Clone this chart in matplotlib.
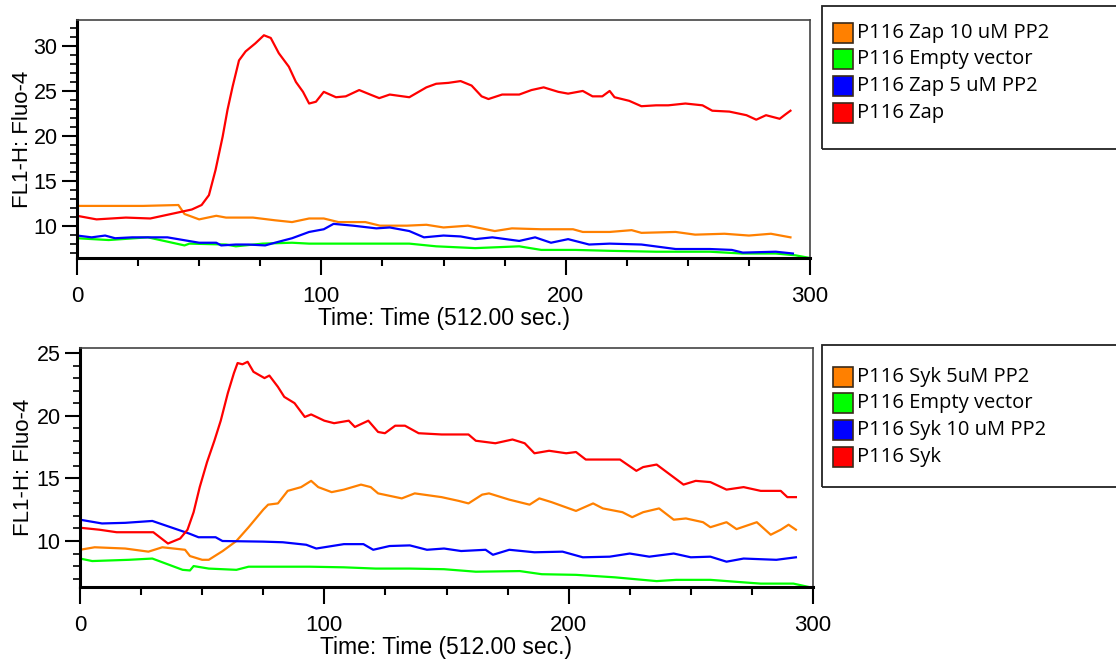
import matplotlib
matplotlib.use("Agg")
import matplotlib.pyplot as plt
from matplotlib.patches import Rectangle
from matplotlib.ticker import MultipleLocator

W, H = 1116, 661

# ---------------- Top panel data (Zap) ----------------
zap10_t = [0, 13, 27, 41.5, 44, 50, 57, 61, 72, 81, 88, 95, 101, 107, 118, 124, 135, 143, 150,
           160, 171, 178, 190, 203, 207, 218, 227, 231, 245, 253, 265, 275, 284, 292]
zap10_y = [12.2, 12.2, 12.2, 12.3, 11.3, 10.7, 11.1, 10.9, 10.9, 10.6, 10.4, 10.8, 10.8, 10.4, 10.4, 10.0, 10.0, 10.1, 9.8,
           10.0, 9.4, 9.7, 9.6, 9.6, 9.3, 9.3, 9.5, 9.2, 9.3, 9.0, 9.1, 8.9, 9.1, 8.7]

empty1_t = [0, 13, 29, 44, 46, 61, 65, 76, 88, 95, 109, 136, 147, 163, 181, 190, 204, 218, 237, 259,
            272, 286, 294, 300]
empty1_y = [8.6, 8.4, 8.7, 7.8, 8.0, 7.9, 7.7, 8.0, 8.1, 8.0, 8.0, 8.0, 7.7, 7.5, 7.7, 7.3, 7.3, 7.2, 7.1, 7.1,
            6.9, 6.9, 6.7, 6.4]

zap5_t = [0, 6, 11.5, 15.6, 22.6, 31, 37, 50, 57, 59, 65, 70, 77, 81, 88, 95, 101, 105, 113, 122.5,
          128, 136, 142, 150, 157, 163, 170, 181, 187.5, 194, 201, 209.6, 218, 231, 245, 259, 268, 272.5,
          286, 293]
zap5_y = [8.9, 8.7, 8.9, 8.6, 8.7, 8.7, 8.7, 8.1, 8.1, 7.8, 7.9, 7.9, 7.8, 8.1, 8.6, 9.3, 9.6, 10.2, 10.0, 9.7,
          9.8, 9.4, 8.7, 8.9, 8.8, 8.5, 8.7, 8.3, 8.7, 8.1, 8.5, 7.9, 8.0, 7.9, 7.4, 7.4, 7.3, 7.0,
          7.1, 6.9]

zap_t = [0, 8, 20, 30, 47, 51, 54, 56.7, 59.6, 61.6, 63.7, 66.3, 69, 73, 76.5, 79.3, 82.6, 86.7, 89.6,
         92.5, 95, 97.8, 101, 106, 110, 115.5, 120, 123.7, 128, 136, 143, 147, 152, 157, 161.5, 165.6,
         168.4, 174, 181, 186, 191, 197, 201, 207, 211, 215, 218, 220, 226, 231, 237, 242, 249, 256, 260,
         267, 274, 278, 282, 287.6, 290, 292]
zap_y = [11.1, 10.7, 10.9, 10.8, 11.8, 12.3, 13.4, 16.2, 19.9, 22.9, 25.5, 28.4, 29.4, 30.3, 31.2, 30.9, 29.2, 27.7, 26.0,
         24.9, 23.6, 23.8, 24.9, 24.3, 24.4, 25.1, 24.6, 24.2, 24.6, 24.3, 25.4, 25.8, 25.9, 26.1, 25.6, 24.4,
         24.1, 24.6, 24.6, 25.1, 25.4, 24.9, 24.7, 25.0, 24.4, 24.4, 25.0, 24.3, 23.9, 23.3, 23.4, 23.4, 23.6, 23.4, 22.8,
         22.7, 22.3, 21.8, 22.3, 21.9, 22.4, 22.8]

# ---------------- Bottom panel data (Syk) ----------------
syk5_t = [0, 6, 18.5, 28, 33.7, 43, 45, 50, 52.7, 58.4, 64, 69, 75, 77, 81, 85, 90.5, 94.6, 97.5, 103,
          108, 115, 119, 122, 131.7, 137, 148, 155, 159, 164.6, 167.4, 175.7, 184, 188, 193, 203, 210, 214,
          222, 226, 230.5, 237, 243, 248, 255, 258, 264.6, 268.7, 277, 282.7, 286.8, 290, 293]
syk5_y = [9.3, 9.5, 9.4, 9.15, 9.5, 9.3, 8.8, 8.5, 8.5, 9.2, 10.0, 11.1, 12.5, 12.9, 13.0, 14.0, 14.3, 14.8, 14.3, 13.9,
          14.1, 14.5, 14.3, 13.8, 13.4, 13.8, 13.5, 13.2, 13.0, 13.7, 13.8, 13.3, 12.9, 13.4, 13.1, 12.4, 13.0, 12.6,
          12.3, 11.9, 12.3, 12.6, 11.7, 11.8, 11.5, 11.1, 11.5, 10.95, 11.5, 10.5, 10.9, 11.3, 10.9]

empty2_t = [0, 5, 20, 29.6, 42, 45, 46.5, 52.7, 64, 69, 80, 94, 108, 121, 135, 149, 162, 180, 189, 203,
            219, 236, 244, 258, 271.6, 278.6, 292, 299]
empty2_y = [8.6, 8.4, 8.5, 8.6, 7.7, 7.65, 8.0, 7.8, 7.7, 7.95, 7.95, 7.95, 7.9, 7.8, 7.8, 7.75, 7.55, 7.6, 7.35, 7.3,
            7.1, 6.8, 6.9, 6.9, 6.7, 6.6, 6.6, 6.3]

syk10_t = [0, 9, 18.5, 29.6, 44.6, 48.5, 55.5, 58.3, 75, 83, 92.6, 96.7, 108, 116, 120, 126.7, 135, 142, 149,
           156, 166, 169, 175.7, 186, 197.5, 205.8, 216.8, 225, 233, 243, 250, 258, 264.6, 271.6, 285, 293]
syk10_y = [11.7, 11.4, 11.45, 11.6, 10.6, 10.3, 10.3, 10.0, 9.95, 9.9, 9.7, 9.4, 9.75, 9.75, 9.3, 9.6, 9.65, 9.3, 9.4,
           9.2, 9.3, 8.9, 9.3, 9.1, 9.15, 8.7, 8.75, 9.0, 8.75, 9.0, 8.7, 8.75, 8.35, 8.6, 8.5, 8.7]

syk_t = [0, 8, 15, 30, 36, 41, 44, 46.5, 49, 52, 55, 57.6, 60.5, 63, 64.5, 66.5, 68.6, 71, 75.5, 77.5,
         81, 83.6, 87.8, 92, 94.6, 100, 104, 110, 112.5, 118, 122, 124.8, 129, 133, 138.6, 148, 159, 162,
         170, 177, 182, 186, 192, 199, 203, 207, 214, 221, 227.7, 230.5, 236, 241.5, 247, 252, 258, 264.6,
         271.6, 278.6, 286.8, 289.5, 293]
syk_y = [11.06, 10.9, 10.7, 10.7, 9.8, 10.2, 10.9, 12.3, 14.3, 16.3, 18.0, 19.6, 21.8, 23.4, 24.2, 24.1, 24.3, 23.5, 23.0, 23.2,
         22.3, 21.5, 21.0, 19.9, 20.1, 19.6, 19.4, 19.6, 19.1, 19.6, 18.7, 18.6, 19.2, 19.2, 18.6, 18.5, 18.5, 18.0,
         17.8, 18.1, 17.8, 17.0, 17.2, 17.0, 17.1, 16.5, 16.5, 16.5, 15.6, 15.9, 16.1, 15.3, 14.5, 14.8, 14.7, 14.1,
         14.3, 14.0, 14.0, 13.5, 13.5]

top_labels = ["P116 Zap 10 uM PP2", "P116 Empty vector", "P116 Zap 5 uM PP2", "P116 Zap"]
bot_labels = ["P116 Syk 5uM PP2", "P116 Empty vector", "P116 Syk 10 uM PP2", "P116 Syk"]
colors = ["#ff8000", "#00ff00", "#0000ff", "#ff0000"]

x_ticks = [0, 100, 200, 300]
top_yticks = [10, 15, 20, 25, 30]
bot_yticks = [10, 15, 20, 25]

fig = plt.figure(figsize=(W / 100, H / 100), dpi=100)


def fbox(x0, y0, x1, y1):
    return [x0 / W, 1 - y1 / H, (x1 - x0) / W, (y1 - y0) / H]


def style(ax, ylim, yticks):
    ax.set_xlim(0, 300)
    ax.set_ylim(*ylim)
    ax.set_xticks(x_ticks)
    ax.set_yticks(yticks)
    ax.xaxis.set_minor_locator(MultipleLocator(25))
    ax.yaxis.set_minor_locator(MultipleLocator(1))
    ax.tick_params(axis="x", which="major", length=12, width=1.5, labelsize=16, pad=8, direction="out")
    ax.tick_params(axis="x", which="minor", length=6, width=1.5, direction="out")
    ax.tick_params(axis="y", which="major", length=11, width=1.5, labelsize=15.5, pad=3, direction="out")
    ax.tick_params(axis="y", which="minor", length=5, width=1.2, direction="out")
    for lab in ax.get_xticklabels() + ax.get_yticklabels():
        lab.set_fontfamily("Liberation Sans")
    ax.spines["left"].set_linewidth(2.2)
    ax.spines["bottom"].set_linewidth(2.2)
    ax.spines["top"].set_linewidth(1.2)
    ax.spines["right"].set_linewidth(1.2)
    ax.spines["top"].set_color("#444444")
    ax.spines["right"].set_color("#444444")


ax1 = fig.add_axes(fbox(77, 20, 810, 258))
series1 = [(zap10_t, zap10_y), (empty1_t, empty1_y), (zap5_t, zap5_y), (zap_t, zap_y)]
for (t, y), c in zip(series1, colors):
    ax1.plot(t, y, color=c, lw=1.6)
style(ax1, (6.4, 32.9), top_yticks)
ax1.set_xlabel("Time: Time (512.00 sec.)", fontsize=16.5, family="Liberation Sans")
ax1.xaxis.set_label_coords(0.5, -0.205)
ax1.set_ylabel("FL1-H: Fluo-4", fontsize=16, family="Liberation Sans")
ax1.yaxis.set_label_coords(-0.06, 0.5)

ax2 = fig.add_axes(fbox(80, 348, 813, 587))
series2 = [(syk5_t, syk5_y), (empty2_t, empty2_y), (syk10_t, syk10_y), (syk_t, syk_y)]
for (t, y), c in zip(series2, colors):
    ax2.plot(t, y, color=c, lw=1.6)
style(ax2, (6.33, 25.4), bot_yticks)
ax2.set_xlabel("Time: Time (512.00 sec.)", fontsize=16.5, family="Liberation Sans")
ax2.xaxis.set_label_coords(0.5, -0.205)
ax2.set_ylabel("FL1-H: Fluo-4", fontsize=16, family="Liberation Sans")
ax2.yaxis.set_label_coords(-0.063, 0.5)


def legend_box(y0, y1, rows, labels):
    fig.add_artist(Rectangle((822 / W, 1 - y1 / H), (1120 - 822) / W, (y1 - y0) / H,
                             transform=fig.transFigure, fill=False, edgecolor="#222222", lw=1.3,
                             clip_on=False))
    for yc, lab, c in zip(rows, labels, colors):
        fig.add_artist(Rectangle((833 / W, 1 - (yc + 10) / H), 20 / W, 20 / H,
                                 transform=fig.transFigure, facecolor=c, edgecolor="#3a2a1a", lw=1.2))
        fig.text(857 / W, 1 - yc / H, lab, fontsize=14.5, family="Open Sans", va="center", ha="left")


legend_box(6, 149, [33, 59, 86, 113], top_labels)
legend_box(345, 487, [377, 403, 430, 457], bot_labels)

fig.savefig("out.png", dpi=100)
